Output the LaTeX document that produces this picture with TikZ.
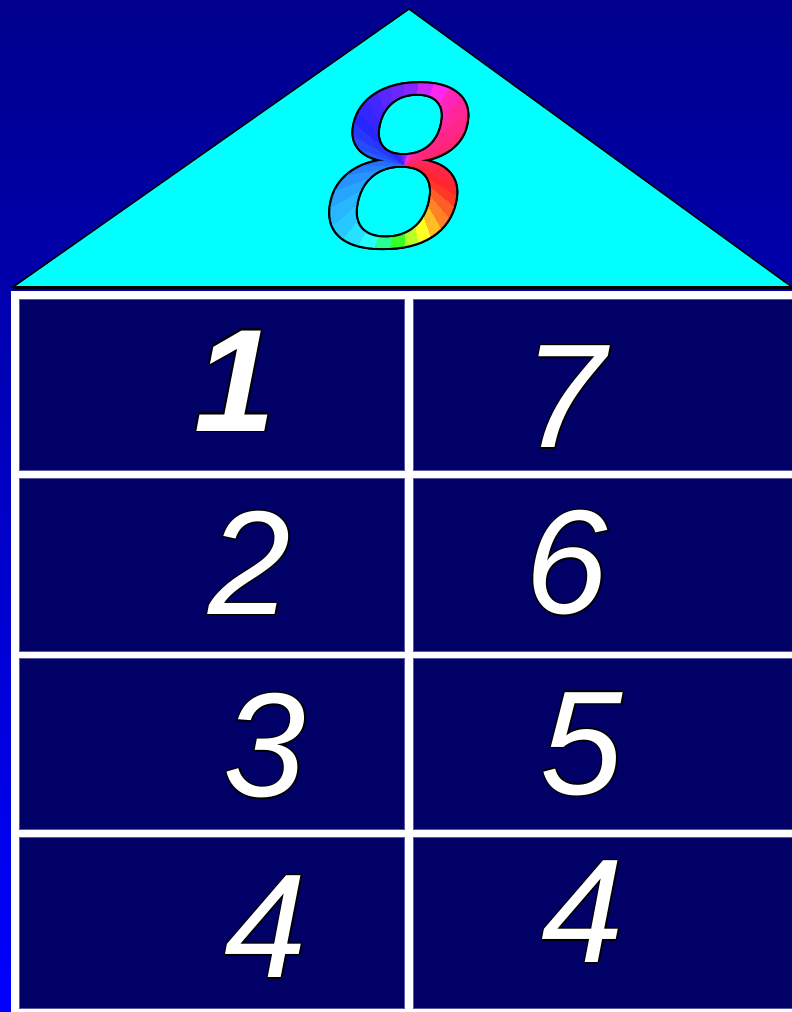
\documentclass[tikz,border=0pt]{standalone}
\usepackage{fontspec}
\setmainfont{Liberation Sans}
\newfontfamily\eightfam{DejaVu Serif}
\usetikzlibrary{calc}
\definecolor{bgtop}{RGB}{0,0,140}
\definecolor{bgbot}{RGB}{0,0,255}
\definecolor{cellc}{RGB}{0,0,102}
\definecolor{cellline}{RGB}{90,90,160}
\definecolor{roof}{RGB}{0,255,255}
\newcommand\digfont{\fontsize{148}{148}\selectfont\itshape}
\newcommand\digfontb{\fontsize{146}{146}\selectfont\bfseries\itshape}
\newcommand\eightfnt{\eightfam\fontsize{218}{218}\selectfont\itshape}
\newcommand\onum[6]{%
  \foreach \a in {0,30,...,330}{\node[dig,text=black,font=#4,shift={(\a:#5)}] at (#2,#3) {#6};}
  \node[dig,text=white,font=#4] (#1) at (#2,#3) {#6};}
\tikzset{
  dig/.style={inner sep=0pt},
  eightst/.style={inner sep=0pt, font=\eightfnt, xscale=1.13, transform shape},
  cell/.style={fill=cellc, draw=cellline, line width=0.6pt, inner sep=0pt, anchor=north west},
}
\begin{document}
\begin{tikzpicture}[x=1pt,y=-1pt]
\useasboundingbox (0,0) rectangle (792,1012);
\clip (0,0) rectangle (792,1012);
\shade[top color=bgtop, bottom color=bgbot] (0,0) rectangle (792,1012);
% roof
\coordinate (rl) at (13,287);
\coordinate (rt) at (409,9);
\coordinate (rr) at (792,287);
\filldraw[fill=roof, draw=black, line width=1.5pt, line join=miter] (rl) -- (rt) -- (rr) -- cycle;
\draw[black, line width=3pt] (rl) -- (rr);
% table frame
\fill[white] (11,291) rectangle (800,1012);
\node[cell, minimum width=385pt, minimum height=171pt] (c11) at (19,299) {};
\node[cell, minimum width=387pt, minimum height=171pt] (c12) at (413,299) {};
\node[cell, minimum width=385pt, minimum height=173pt] (c21) at (19,478) {};
\node[cell, minimum width=387pt, minimum height=173pt] (c22) at (413,478) {};
\node[cell, minimum width=385pt, minimum height=171pt] (c31) at (19,658) {};
\node[cell, minimum width=387pt, minimum height=171pt] (c32) at (413,658) {};
\node[cell, minimum width=385pt, minimum height=171pt] (c41) at (19,837) {};
\node[cell, minimum width=387pt, minimum height=171pt] (c42) at (413,837) {};
% digits
\onum{n1}{235}{381}{\digfontb}{1.6}{1}
\onum{n7}{565}{397}{\digfont}{1.2}{7}
\onum{n2}{250}{563}{\digfont}{1.2}{2}
\onum{n6}{567}{563}{\digfont}{1.2}{6}
\onum{n3}{265}{746}{\digfont}{1.2}{3}
\onum{n5}{582}{744}{\digfont}{1.2}{5}
\onum{n4a}{266}{927}{\digfont}{1.2}{4}
\onum{n4b}{583}{912}{\digfont}{1.2}{4}
% rainbow eight
\foreach \a in {0,30,...,330}{\node[eightst,text=black,shift={(\a:2.0)}] at (402,166) {8};}
\coordinate (ec) at (404,165);
\foreach \ang/\h in {0/350,-10/353,-20/357,-30/5,-40/15,-50/25,-60/42,-70/60,-80/80,-90/115,-100/150,-110/180,-120/188,-130/195,-140/200,-150/205,-160/210,-170/215,-180/220,-190/225,-200/230,-210/235,-220/240,-230/244,-240/248,-250/254,-260/260,-270/266,-280/285,-290/305,-300/320,-310/328,-320/333,-330/337,-340/342,-350/346}{
  \convertcolorspec{Hsb}{\h,0.85,1}{rgb}\wcspec
  \definecolor{wc}{rgb}{\wcspec}
  \begin{scope}
    \clip (ec) -- ($(ec)+(-\ang:200)$) -- ($(ec)+(-\ang+11:200)$) -- cycle;
    \node[eightst,text=wc] at (402,166) {8};
  \end{scope}
}
\node[dig] (eight) at (402,166) {};
\end{tikzpicture}
\end{document}
